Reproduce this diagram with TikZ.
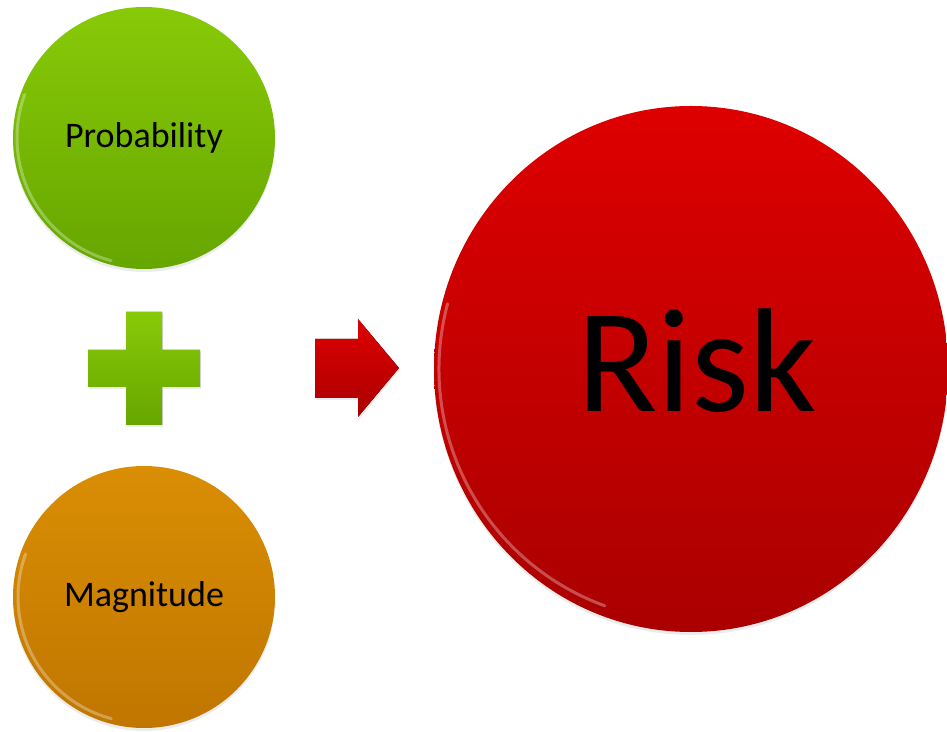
\documentclass[tikz,border=0pt]{standalone}
\usepackage{fontspec}
\setmainfont{Carlito}
\usetikzlibrary{shapes.geometric,shadows}
\definecolor{probtop}{RGB}{136,202,8}
\definecolor{probbot}{RGB}{102,166,0}
\definecolor{magntop}{RGB}{218,142,4}
\definecolor{magnbot}{RGB}{192,118,0}
\definecolor{risktop}{RGB}{222,0,0}
\definecolor{riskbot}{RGB}{170,0,0}
\begin{document}
\begin{tikzpicture}[x=1pt,y=1pt,
    bubble/.style={circle, minimum size=262pt, inner sep=0pt,
        drop shadow={shadow xshift=0pt, shadow yshift=-3pt, opacity=0.15},
        font=\fontsize{36}{40}\selectfont},
    rim/.style={white, opacity=0.3, line width=3pt, line cap=round},
    sign/.style={drop shadow={shadow xshift=1pt, shadow yshift=-2pt, opacity=0.15}}]
    \useasboundingbox (0,0) rectangle (947,731);
    \node [bubble, top color=probtop, bottom color=probbot] (prob) at (144,593) {Probability};
    \node [bubble, top color=magntop, bottom color=magnbot] (magn) at (144,134) {Magnitude};
    \node [ellipse, minimum width=514pt, minimum height=526pt, inner sep=0pt,
        top color=risktop, bottom color=riskbot, text depth=18pt,
        drop shadow={shadow xshift=0pt, shadow yshift=-3pt, opacity=0.15},
        font=\fontsize{148}{150}\selectfont] (risk) at (691,362) {\hspace*{12pt}Risk};
    \draw[rim] ([shift={(160:127)}]prob.center) arc[start angle=160, end angle=255, radius=127];
    \draw[rim] ([shift={(160:126)}]magn.center) arc[start angle=160, end angle=255, radius=126];
    \draw[rim] ([shift={(165:252)}]risk.center) arc[start angle=165, end angle=250, radius=252];
    \fill[sign, top color=probtop, bottom color=probbot]
        (126,419) -- (162,419) -- (162,381) -- (200,381) -- (200,344) -- (162,344)
        -- (162,306) -- (126,306) -- (126,344) -- (88,344) -- (88,381) -- (126,381) -- cycle;
    \fill[sign, top color=risktop, bottom color=riskbot]
        (315,392) -- (358,392) -- (358,412) -- (399,363) -- (358,314) -- (358,333)
        -- (315,333) -- cycle;
\end{tikzpicture}
\end{document}
